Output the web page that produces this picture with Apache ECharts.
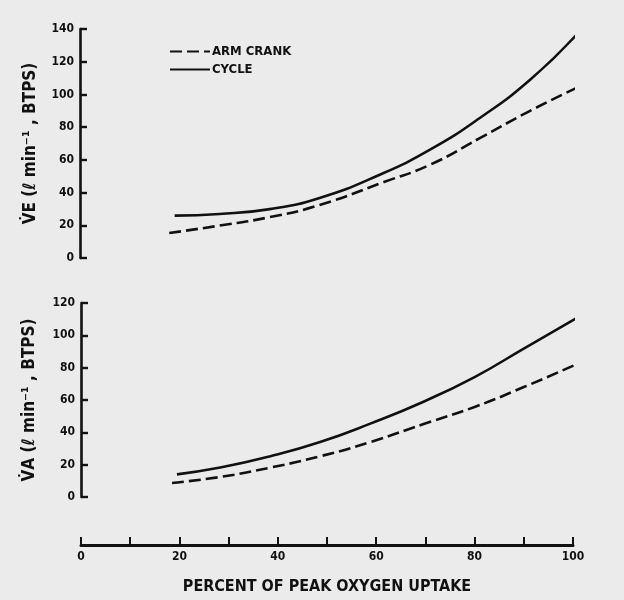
<!DOCTYPE html>
<html>
<head>
<meta charset="utf-8">
<script src="https://cdn.jsdelivr.net/npm/echarts@6/dist/echarts.min.js"></script>
<style>
  html, body { margin: 0; padding: 0; background: #ebebeb; }
  #chart { width: 624px; height: 600px; }
</style>
</head>
<body>
<div id="chart"></div>
<script>
// Ventilation vs. percent of peak oxygen uptake, arm cranking vs. cycling
const seriesNames = ['ARM CRANK', 'CYCLE'];

// Upper panel: VE (l/min, BTPS)
const veArmPct   = [18.1, 28.3, 38.5, 48.6, 61.8, 71.0, 81.1, 91.3, 100.7];
const veArm      = [15.3, 19.8, 25.0, 32.4, 46.6, 57.0, 73.3, 90.0, 104];
const veCyclePct = [19.2, 28.3, 38.5, 48.6, 60.8, 71.0, 81.1, 91.3, 100.7];
const veCycle    = [25.9, 26.9, 29.9, 36.7, 50.9, 66.2, 85.6, 109, 136.5];

// Lower panel: VA (l/min, BTPS)
const vaArmPct   = [18.5, 28.3, 38.5, 48.6, 58.8, 69.5, 80, 90, 101];
const vaArm      = [8.7, 12.4, 18.2, 25.2, 34.0, 45.0, 55.7, 68.0, 82.5];
const vaCyclePct = [19.5, 28.3, 38.5, 48.6, 58.8, 69.5, 80, 90, 101.7];
const vaCycle    = [14.0, 18.2, 25.2, 34.0, 45.4, 58.8, 74.2, 91.8, 112.4];

// Axis ticks
const xTicks = { min: 0, max: 100, interval: 20 };
const veTicks = { min: 0, max: 140, interval: 20 };
const vaTicks = { min: 0, max: 120, interval: 20 };

const zip = (xs, ys) => xs.map((x, i) => [x, ys[i]]);

const FONT = "'DejaVu Sans Condensed', 'DejaVu Sans', sans-serif";
const INK = '#111';

const dashed = { color: INK, width: 2.6, type: [12, 5] };
const solid = { color: INK, width: 2.6, type: 'solid' };

function yAxisFor(ticks, gridIndex, name, gap) {
  return {
    type: 'value', gridIndex,
    min: ticks.min, max: ticks.max, interval: ticks.interval,
    name, nameLocation: 'middle', nameRotate: 90, nameGap: gap,
    nameTextStyle: { fontFamily: FONT, fontWeight: 'bold', fontSize: 17, color: INK },
    axisLine: { show: true, onZero: false, lineStyle: { color: INK, width: 2.6 } },
    axisTick: { show: true, inside: true, length: 7, lineStyle: { color: INK, width: 2.4 } },
    axisLabel: { fontFamily: FONT, fontWeight: 'bold', fontSize: 12, color: INK, margin: 6 },
    splitLine: { show: false }
  };
}

function lineSeries(name, axis, style, xs, ys) {
  return {
    name, type: 'line', xAxisIndex: axis, yAxisIndex: axis, smooth: true,
    showSymbol: false, symbol: 'none', lineStyle: style, itemStyle: { color: INK },
    data: zip(xs, ys)
  };
}

const option = {
  backgroundColor: '#ebebeb',
  animation: false,
  legend: {
    data: seriesNames,
    orient: 'vertical',
    left: 164, top: 40,
    itemWidth: 40, itemHeight: 10, itemGap: 5,
    itemStyle: { opacity: 0 },
    textStyle: { fontFamily: FONT, fontWeight: 'bold', fontSize: 13, color: INK, padding: [0, 0, 0, -3] }
  },
  grid: [
    { left: 80, top: 29, width: 493, height: 229, outerBoundsMode: 'none' },
    { left: 81, top: 303, width: 492, height: 194, outerBoundsMode: 'none' }
  ],
  xAxis: [
    { type: 'value', gridIndex: 0, min: xTicks.min, max: xTicks.max, interval: xTicks.interval, show: false },
    {
      type: 'value', gridIndex: 1, min: xTicks.min, max: xTicks.max, interval: xTicks.interval,
      position: 'bottom', offset: 48,
      name: 'PERCENT OF PEAK OXYGEN UPTAKE', nameLocation: 'middle', nameGap: 34,
      nameTextStyle: { fontFamily: FONT, fontWeight: 'bold', fontSize: 16, color: INK },
      axisLine: { show: true, onZero: false, lineStyle: { color: INK, width: 3 } },
      axisTick: { show: true, inside: true, length: 8, lineStyle: { color: INK, width: 2 } },
      minorTick: { show: true, splitNumber: 2, length: 8, lineStyle: { color: INK, width: 2 } },
      axisLabel: { fontFamily: FONT, fontWeight: 'bold', fontSize: 12, color: INK, margin: 6 },
      splitLine: { show: false }
    }
  ],
  yAxis: [
    yAxisFor(veTicks, 0, 'V\u0307E (\u2113 min\u207B\u00B9 , BTPS)', 41),
    yAxisFor(vaTicks, 1, 'V\u0307A (\u2113 min\u207B\u00B9 , BTPS)', 43)
  ],
  series: [
    lineSeries(seriesNames[0], 0, dashed, veArmPct, veArm),
    lineSeries(seriesNames[1], 0, solid, veCyclePct, veCycle),
    lineSeries(seriesNames[0], 1, dashed, vaArmPct, vaArm),
    lineSeries(seriesNames[1], 1, solid, vaCyclePct, vaCycle)
  ]
};

const chart = echarts.init(document.getElementById('chart'), null, { renderer: 'canvas' });
chart.setOption(option);
</script>
</body>
</html>
